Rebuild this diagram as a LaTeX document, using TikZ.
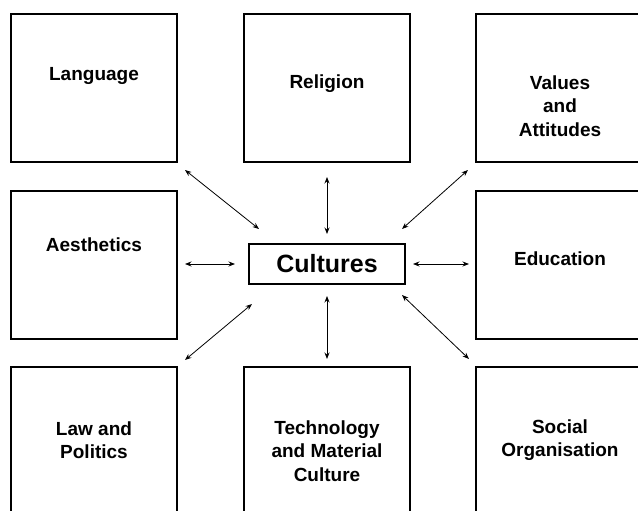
\documentclass[tikz,border=0pt]{standalone}
\usepackage{fontspec}
\setmainfont{Liberation Sans}
\usetikzlibrary{arrows.meta}
\begin{document}
\begin{tikzpicture}[x=1pt,y=-1pt,
  bigbox/.style={draw,line width=2.3pt,minimum width=166pt,minimum height=148pt,inner sep=0pt,outer sep=0pt,anchor=north west},
  label/.style={font=\bfseries\fontsize{19}{23.5}\selectfont,align=center,inner sep=0pt},
  arr/.style={{Stealth[length=6.5pt,width=5pt]}-{Stealth[length=6.5pt,width=5pt]},line width=0.8pt}]
\useasboundingbox[fill=white] (0,0) rectangle (638,511);
% boxes
\node[bigbox] (lang) at (11,14) {};
\node[bigbox] (rel) at (244,14) {};
\node[bigbox] (val) at (476,14) {};
\node[bigbox] (aes) at (11,191) {};
\node[bigbox] (edu) at (476,191) {};
\node[bigbox] (law) at (11,367) {};
\node[bigbox] (tech) at (244,367) {};
\node[bigbox] (soc) at (476,367) {};
% labels
\node[label] (tlang) at (94,76) {Language};
\node[label] (trel) at (327,84) {Religion};
\node[label] (tval) at (560,106) {Values\\and\\Attitudes};
\node[label] (taes) at (94,245) {Aesthetics};
\node[label] (tedu) at (560,259) {Education};
\node[label] (tlaw) at (94,440) {Law and\\Politics};
\node[label] (ttech) at (327,451) {Technology\\and Material\\Culture};
\node[label] (tsoc) at (560,440) {Social\\Organisation};
% centre
\node[draw,line width=2.3pt,minimum width=156pt,minimum height=40pt,inner sep=0pt,outer sep=0pt,
      font=\bfseries\fontsize{25}{30}\selectfont] (cult) at (327,264) {Cultures};
% connectors
\draw[arr] ([shift={(8,8)}]lang.south east) -- ([shift={(10,-15)}]cult.north west);
\draw[arr] ([shift={(0,15)}]rel.south) -- ([shift={(0,-10)}]cult.north);
\draw[arr] ([shift={(-8,8)}]val.south west) -- ([shift={(-3,-15)}]cult.north east);
\draw[arr] ([xshift=8]aes.east |- cult.west) -- ([xshift=-14]cult.west);
\draw[arr] ([xshift=8]cult.east) -- ([xshift=-7]edu.west |- cult.east);
\draw[arr] ([shift={(3,20)}]cult.south west) -- ([shift={(8,-7)}]law.north east);
\draw[arr] ([shift={(0,12)}]cult.south) -- ([shift={(0,-8)}]tech.north);
\draw[arr] ([shift={(-3,11)}]cult.south east) -- ([shift={(-7,-8)}]soc.north west);
\end{tikzpicture}
\end{document}
